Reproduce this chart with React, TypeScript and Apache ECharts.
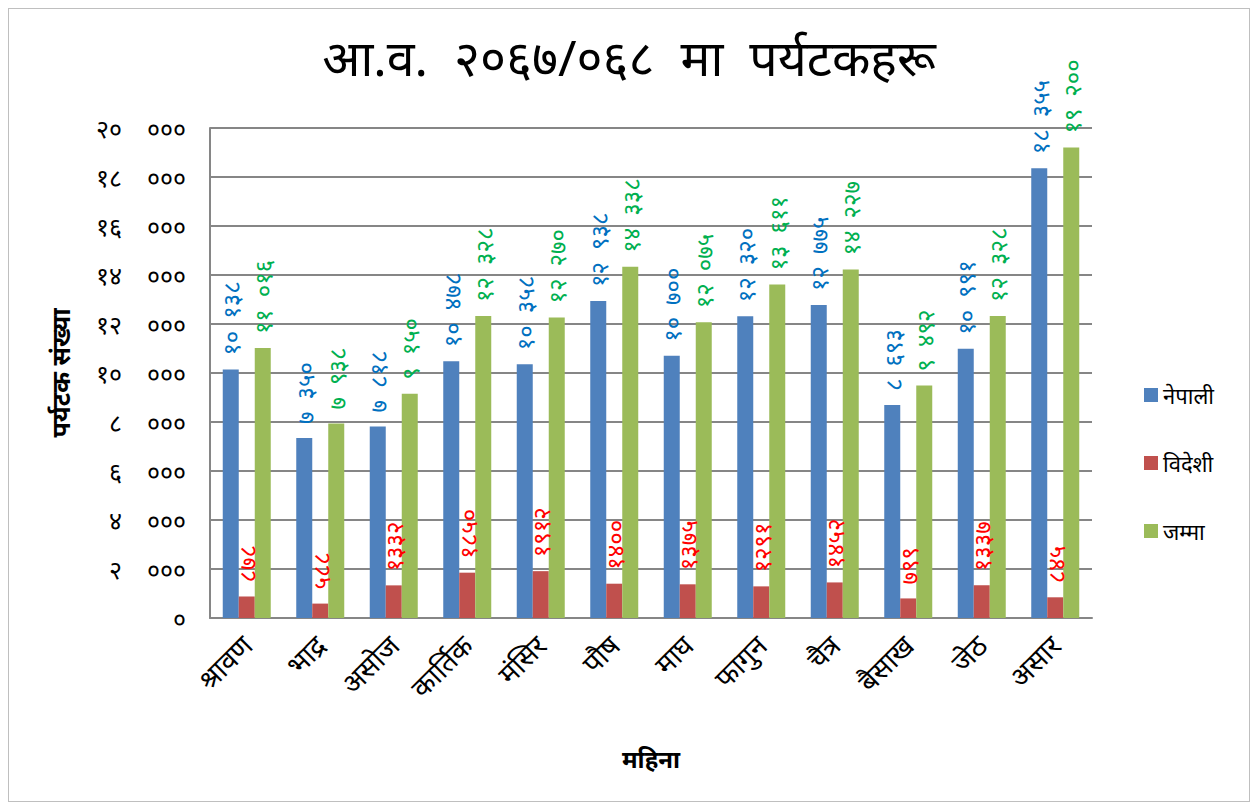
import React, { useEffect, useRef } from "react";
import * as echarts from "echarts";

const months = ["श्रावण", "भाद्र", "असोज", "कार्तिक", "मंसिर", "पौष", "माघ", "फागुन", "चैत्र", "बैसाख", "जेठ", "असार"];
const nepali = [10138, 7350, 7818, 10478, 10358, 12938, 10700, 12320, 12775, 8693, 10991, 18355];
const foreign = [878, 588, 1332, 1850, 1912, 1400, 1375, 1291, 1452, 799, 1337, 845];
const total = [11016, 7938, 9150, 12328, 12270, 14338, 12075, 13611, 14227, 9492, 12328, 19200];
const yTicks = { min: 0, max: 20000, interval: 2000 };

const DEV = "०१२३४५६७८९";
const toDev = (s: string) => s.replace(/[0-9]/g, (d) => DEV[+d]);
const sep = (v: number, gap: string) => {
  const s = String(v);
  return s.length > 3 ? s.slice(0, -3) + gap + s.slice(-3) : s;
};

const FONT = "'Noto Sans', 'Noto Sans Devanagari', sans-serif";

export default function App() {
  const ref = useRef<HTMLDivElement>(null);
  useEffect(() => {
    if (!ref.current) return;
    const chart = echarts.init(ref.current, null, { renderer: "svg" });
    const lbl = (color: string, useSep: boolean) => ({
      show: true,
      position: "top",
      rotate: 90,
      align: "left",
      verticalAlign: "middle",
      distance: 14,
      color,
      fontSize: 24,
      fontFamily: FONT,
      formatter: (p: any) => toDev(useSep ? sep(p.value, "\u2002") : String(p.value)),
    });
    chart.setOption({
      animation: false,
      textStyle: { fontFamily: FONT },
      title: {
        text: "आ.व.  २०६७/०६८  मा  पर्यटकहरू",
        left: "center",
        top: 18,
        textStyle: { fontSize: 50, fontWeight: "normal", color: "#000", fontFamily: FONT },
      },
      legend: {
        orient: "vertical",
        left: 1130,
        top: 370,
        itemWidth: 14,
        itemHeight: 14,
        itemGap: 46,
        icon: "rect",
        textStyle: { fontSize: 22, color: "#000", fontFamily: FONT },
        data: ["नेपाली", "विदेशी", "जम्मा"],
      },
      grid: { left: 201, top: 119, right: 157, bottom: 183, containLabel: false },
      xAxis: {
        type: "category",
        data: months,
        name: "महिना",
        nameLocation: "middle",
        nameGap: 128,
        nameTextStyle: { fontSize: 24, fontWeight: "bold", color: "#000", fontFamily: FONT },
        axisLine: { lineStyle: { color: "#868686", width: 2 } },
        axisTick: { show: false },
        axisLabel: { rotate: 45, fontSize: 28, color: "#000", margin: 22, interval: 0, fontFamily: FONT },
      },
      yAxis: {
        type: "value",
        min: yTicks.min,
        max: yTicks.max,
        interval: yTicks.interval,
        name: "पर्यटक संख्या",
        nameLocation: "middle",
        nameGap: 138,
        nameRotate: 90,
        nameTextStyle: { fontSize: 25, fontWeight: "bold", color: "#000", fontFamily: FONT },
        axisLine: { show: true, lineStyle: { color: "#868686", width: 2 } },
        axisTick: { show: false },
        splitLine: { lineStyle: { color: "#868686", width: 2 } },
        axisLabel: {
          fontSize: 25,
          color: "#000",
          margin: 24,
          fontFamily: FONT,
          formatter: (v: number) => toDev(sep(v, "\u2003")),
        },
      },
      series: [
        { name: "नेपाली", type: "bar", data: nepali, barWidth: 16, barGap: "0%", itemStyle: { color: "#4F81BD" }, label: lbl("#0070C0", true) },
        { name: "विदेशी", type: "bar", data: foreign, barWidth: 16, barGap: "0%", itemStyle: { color: "#C0504D" }, label: lbl("#FF0000", false) },
        { name: "जम्मा", type: "bar", data: total, barWidth: 16, barGap: "0%", itemStyle: { color: "#9BBB59" }, label: lbl("#00B050", true) },
      ],
    });
    return () => chart.dispose();
  }, []);
  return (
    <div style={{ width: 1242, height: 794, border: "1px solid #bfbfbf", boxSizing: "border-box" }}>
      <div ref={ref} style={{ width: 1240, height: 792 }} />
    </div>
  );
}
